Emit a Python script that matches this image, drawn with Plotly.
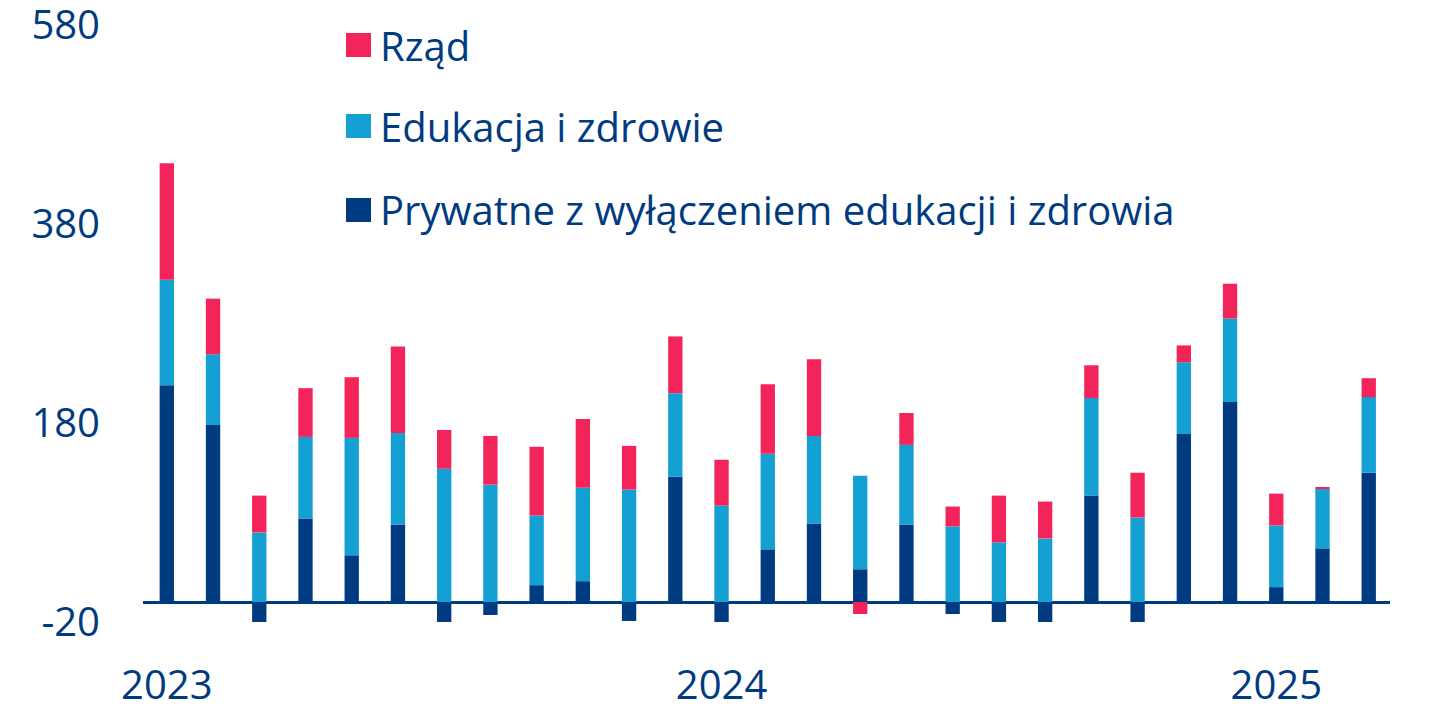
import plotly.graph_objects as go

months = list(range(27))  # Jan 2023 .. Mar 2025
year_ticks = [0, 12, 24]
year_labels = ["2023", "2024", "2025"]

prywatne = [218, 178, -24, 84, 47, 78, -24, -13, 17, 21, -19, 126, -24, 53, 79, 33,
            78, -12, -22, -24, 107, -24, 169, 201, 15, 54, 130]
edukacja = [106, 71, 70, 82, 118, 92, 134, 118, 70, 94, 113, 84, 97, 96, 88, 94,
            80, 76, 60, 64, 98, 85, 72, 84, 62, 60, 76]
rzad = [117, 56, 37, 49, 61, 87, 39, 49, 69, 69, 44, 57, 46, 70, 77, -12,
        32, 20, 47, 37, 33, 45, 17, 35, 32, 1.5, 19]

y_ticks = [-20, 180, 380, 580]

names = ["Rząd", "Edukacja i zdrowie", "Prywatne z wyłączeniem edukacji i zdrowia"]
RED = "#F3245A"
TEAL = "#14A0D2"
NAVY = "#003A80"
FONT = "Open Sans"

fig = go.Figure()
fig.add_bar(x=months, y=prywatne, name=names[2], marker_color=NAVY, width=0.31,
            marker_line_width=0, showlegend=False)
fig.add_bar(x=months, y=edukacja, name=names[1], marker_color=TEAL, width=0.31,
            marker_line_width=0, showlegend=False)
fig.add_bar(x=months, y=rzad, name=names[0], marker_color=RED, width=0.31,
            marker_line_width=0, showlegend=False)

# page body has an 8px margin, so the figure is 8px smaller than the window
OFF = 8
W, H = 1429 - OFF, 715 - OFF
PX0, PX1, PY0, PY1 = 143, 1390, 25, 622  # plot area in window pixels
L, R, T, B = PX0 - OFF, W - (PX1 - OFF), PY0 - OFF, H - (PY1 - OFF)
pw, ph = PX1 - PX0, PY1 - PY0


def px_x(p):
    return (p - PX0) / pw


def px_y(p):
    return (PY1 - p) / ph


shapes = []
annotations = []
legend_rows = [(names[0], RED, 45), (names[1], TEAL, 126), (names[2], NAVY, 210)]
for label, col, cy in legend_rows:
    shapes.append(dict(type="rect", xref="paper", yref="paper",
                       x0=px_x(346), x1=px_x(371), y0=px_y(cy + 12), y1=px_y(cy - 12),
                       fillcolor=col, line_width=0))
    annotations.append(dict(xref="paper", yref="paper", x=px_x(378), y=px_y(cy),
                            xanchor="left", yanchor="middle", text=label, showarrow=False,
                            font=dict(family=FONT, size=40, color=NAVY)))

fig.update_layout(
    barmode="relative",
    width=W, height=H,
    margin=dict(l=L, r=R, t=T, b=B, autoexpand=False),
    paper_bgcolor="white", plot_bgcolor="white",
    showlegend=False,
    shapes=shapes,
    annotations=annotations,
    font=dict(family=FONT, color=NAVY),
    xaxis=dict(range=[-0.515, 26.46], tickvals=year_ticks, ticktext=year_labels,
               automargin=False, ticklabeloverflow="allow",
               showgrid=False, zeroline=False, showline=False,
               ticks="outside", ticklen=28, tickcolor="rgba(0,0,0,0)",
               tickfont=dict(family=FONT, size=40, color=NAVY)),
    yaxis=dict(range=[-20.05, 580.05], tickvals=y_ticks, ticktext=[str(v) for v in y_ticks],
               automargin=False, ticklabeloverflow="allow",
               showgrid=False, zeroline=True, zerolinecolor=NAVY, zerolinewidth=2.5,
               showline=False, ticks="outside", ticklen=34, tickcolor="rgba(0,0,0,0)",
               tickfont=dict(family=FONT, size=40, color=NAVY)),
)

fig.write_html("out.html")
